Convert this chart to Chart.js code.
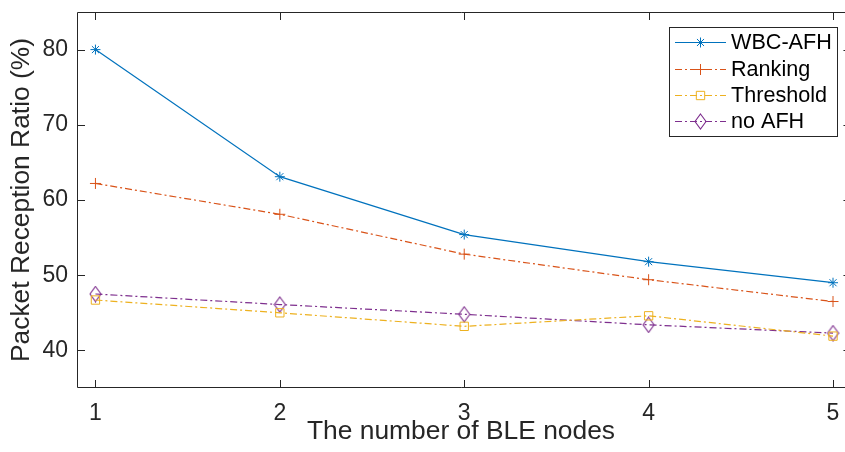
<!DOCTYPE html>
<html>
<head>
<meta charset="utf-8">
<script src="https://cdn.jsdelivr.net/npm/chart.js@4/dist/chart.umd.min.js"></script>
<style>
  html, body { margin: 0; padding: 0; background: #fff; }
  #wrap { width: 845px; height: 452px; }
</style>
</head>
<body>
<div id="wrap"><canvas id="prr-chart" width="845" height="452"></canvas></div>
<script>
// number of BLE nodes on the x axis
const nodeCounts = [1, 2, 3, 4, 5];

// packet reception ratio (%) per scheme
const wbcAfh    = [80.0, 63.1, 55.4, 51.8, 49.0];
const ranking   = [62.2, 58.1, 52.8, 49.4, 46.5];
const threshold = [46.7, 45.0, 43.2, 44.6, 41.9];
const noAfh     = [47.5, 46.1, 44.8, 43.4, 42.3];

const xTicks = [1, 2, 3, 4, 5];
const yTicks = [40, 50, 60, 70, 80];

const AXIS_COLOR = '#262626';
const FONT = '"Liberation Sans", Arial, Helvetica, sans-serif';
const DASH_DOT = [7, 3, 2, 3];

// tall open diamond, like matlab's 'd' marker
function diamondMarker(color) {
  const c = document.createElement('canvas');
  c.width = 13; c.height = 17;
  const g = c.getContext('2d');
  g.strokeStyle = color;
  g.lineWidth = 1.1;
  g.beginPath();
  g.moveTo(6.5, 1); g.lineTo(12, 8.5); g.lineTo(6.5, 16); g.lineTo(1, 8.5);
  g.closePath();
  g.stroke();
  return c;
}

const toXY = vals => vals.map((v, i) => ({ x: nodeCounts[i], y: v }));

const datasets = [
  { label: 'WBC-AFH', data: toXY(wbcAfh), borderColor: '#0072BD', borderDash: [],
    pointStyle: 'star', pointRadius: 5 },
  { label: 'Ranking', data: toXY(ranking), borderColor: '#D95319', borderDash: DASH_DOT,
    pointStyle: 'cross', pointRadius: 5.5 },
  { label: 'Threshold', data: toXY(threshold), borderColor: '#EDB120', borderDash: DASH_DOT,
    pointStyle: 'rect', pointRadius: 5.9 },
  { label: 'no AFH', data: toXY(noAfh), borderColor: '#7E2F8E', borderDash: DASH_DOT,
    pointStyle: diamondMarker('#7E2F8E'), pointRadius: 7 },
].map(d => Object.assign(d, {
  borderWidth: 1.2,
  backgroundColor: 'rgba(0,0,0,0)',
  pointBorderColor: d.borderColor,
  pointBackgroundColor: 'rgba(0,0,0,0)',
  pointBorderWidth: 1,
  pointHoverRadius: d.pointRadius,
  tension: 0,
  fill: false,
}));

// axes outline with inward tick marks; the right edge of the axes
// sits just past the canvas, so only the stubs of its ticks show
const axesBox = {
  id: 'axesBox',
  afterDatasetsDraw(chart) {
    const { ctx, chartArea: a, scales } = chart;
    const len = 8;
    const rightEdge = scales.x.getPixelForValue(5.1);
    ctx.save();
    ctx.strokeStyle = AXIS_COLOR;
    ctx.lineWidth = 1;
    ctx.setLineDash([]);
    ctx.beginPath();
    ctx.moveTo(rightEdge, a.top + 0.5);
    ctx.lineTo(a.left + 0.5, a.top + 0.5);
    ctx.lineTo(a.left + 0.5, a.bottom - 0.5);
    ctx.lineTo(rightEdge, a.bottom - 0.5);
    xTicks.forEach(v => {
      const x = Math.round(scales.x.getPixelForValue(v)) + 0.5;
      ctx.moveTo(x, a.bottom); ctx.lineTo(x, a.bottom - len);
      ctx.moveTo(x, a.top); ctx.lineTo(x, a.top + len);
    });
    yTicks.forEach(v => {
      const y = Math.round(scales.y.getPixelForValue(v)) + 0.5;
      ctx.moveTo(a.left, y); ctx.lineTo(a.left + len, y);
      ctx.moveTo(rightEdge, y); ctx.lineTo(rightEdge - len, y);
    });
    ctx.stroke();
    ctx.restore();
  }
};

// legend box in the upper right corner
const boxLegend = {
  id: 'boxLegend',
  afterDraw(chart) {
    const { ctx } = chart;
    const box = { x: 669.5, y: 27.5, w: 168, h: 109 };
    const rowY = [42, 69, 95, 121];
    ctx.save();
    ctx.fillStyle = '#fff';
    ctx.fillRect(box.x, box.y, box.w, box.h);
    ctx.strokeStyle = AXIS_COLOR;
    ctx.lineWidth = 1;
    ctx.strokeRect(box.x, box.y, box.w, box.h);
    chart.data.datasets.forEach((ds, i) => {
      const y = rowY[i] + 0.5;
      ctx.strokeStyle = ds.borderColor;
      ctx.lineWidth = ds.borderWidth;
      ctx.setLineDash(ds.borderDash);
      ctx.beginPath();
      ctx.moveTo(675, y); ctx.lineTo(726, y);
      ctx.stroke();
      ctx.setLineDash([]);
      ctx.fillStyle = 'rgba(0,0,0,0)';
      ctx.lineWidth = ds.pointBorderWidth;
      Chart.helpers.drawPoint(ctx, {
        pointStyle: ds.pointStyle, radius: ds.pointRadius, rotation: 0, borderWidth: 1
      }, 700.5, y);
      ctx.fillStyle = '#000';
      ctx.font = '21.6px ' + FONT;
      ctx.textBaseline = 'middle';
      ctx.textAlign = 'left';
      ctx.fillText(ds.label, 731, rowY[i] + 1);
    });
    ctx.restore();
  }
};

new Chart(document.getElementById('prr-chart'), {
  type: 'line',
  data: { datasets },
  options: {
    responsive: false,
    animation: false,
    devicePixelRatio: 1,
    layout: { autoPadding: false, padding: { top: 12, right: 0, left: 0, bottom: 0 } },
    plugins: { legend: { display: false }, tooltip: { enabled: false } },
    scales: {
      x: {
        type: 'linear',
        min: 0.9,
        max: 5.065,
        afterBuildTicks: s => { s.ticks = xTicks.map(v => ({ value: v })); },
        afterFit: s => { s.height = 64; s.paddingLeft = 0; s.paddingRight = 0; },
        grid: { display: false, drawTicks: false },
        border: { display: false },
        ticks: { color: AXIS_COLOR, padding: 12, maxRotation: 0,
          font: { family: FONT, size: 23 } },
        title: { display: true, text: 'The number of BLE nodes', color: AXIS_COLOR,
          padding: { top: 0, bottom: 7 }, font: { family: FONT, size: 26.4, lineHeight: 1 } },
      },
      y: {
        min: 35,
        max: 85,
        afterBuildTicks: s => { s.ticks = yTicks.map(v => ({ value: v })); },
        afterFit: s => { s.width = 77; s.paddingTop = 0; s.paddingBottom = 0; },
        grid: { display: false, drawTicks: false },
        border: { display: false },
        ticks: { color: AXIS_COLOR, padding: 9, font: { family: FONT, size: 23 } },
        title: { display: true, text: 'Packet Reception Ratio (%)', color: AXIS_COLOR,
          padding: { top: 9, bottom: 0 }, font: { family: FONT, size: 26.4, lineHeight: 1 } },
      }
    }
  },
  plugins: [axesBox, boxLegend]
});
</script>
</body>
</html>
